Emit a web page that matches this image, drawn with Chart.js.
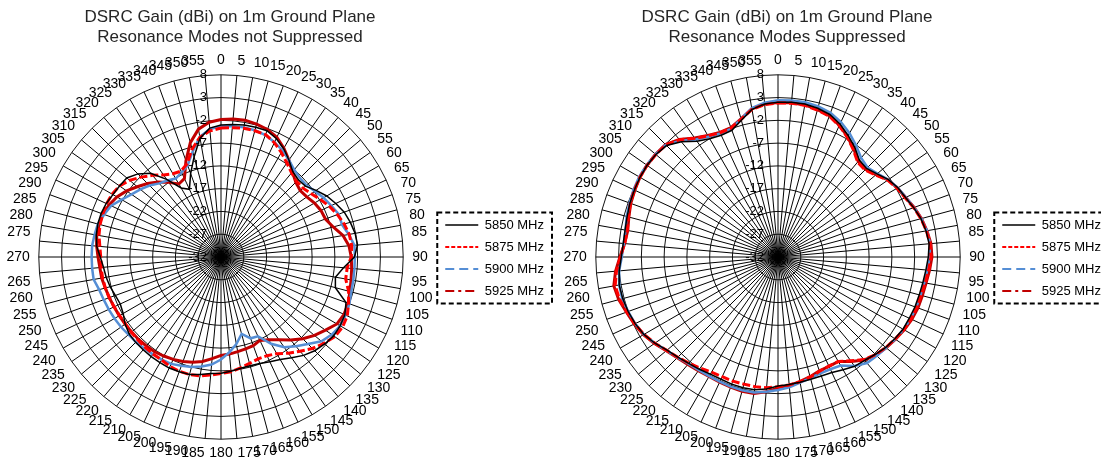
<!DOCTYPE html>
<html>
<head>
<meta charset="utf-8">
<script src="https://cdn.jsdelivr.net/npm/chart.js@4.4.1/dist/chart.umd.min.js"></script>
<style>
  html, body { margin: 0; padding: 0; background: #fff; overflow: hidden; }
  body { width: 1101px; height: 463px; position: relative; }
  canvas { position: absolute; top: 0; }
  #chart-left { left: 0; }
  #chart-right { left: 550px; }
</style>
</head>
<body>
<canvas id="chart-left" width="554" height="463"></canvas>
<canvas id="chart-right" width="561" height="463"></canvas>
<script>
// angulos (graus) e escala de ganho (dBi)
const angles = [
  "0", "5", "10", "15", "20", "25", "30", "35", "40", "45", "50", "55",
  "60", "65", "70", "75", "80", "85", "90", "95", "100", "105", "110", "115",
  "120", "125", "130", "135", "140", "145", "150", "155", "160", "165", "170", "175",
  "180", "185", "190", "195", "200", "205", "210", "215", "220", "225", "230", "235",
  "240", "245", "250", "255", "260", "265", "270", "275", "280", "285", "290", "295",
  "300", "305", "310", "315", "320", "325", "330", "335", "340", "345", "350", "355",
]
const gainTicks = [-32, -27, -22, -17, -12, -7, -2, 3, 8]
const seriesNames = ["5850 MHz", "5875 MHz", "5900 MHz", "5925 MHz"]

// modos de ressonancia nao suprimidos
const notSupp5850 = [
  -3.0, -2.8, -2.6, -2.5, -2.5, -3.3, -4.5, -6.0, -7.5, -8.0, -7.8, -6.5,
  -5.2, -4.2, -3.2, -2.6, -2.1, -1.9, -2.7, -5.0, -6.5, -6.0, -2.8, -2.0,
  -1.8, -1.8, -2.3, -2.9, -3.8, -5.0, -6.0, -6.6, -7.1, -7.3, -7.2, -6.8,
  -6.5, -6.3, -5.8, -5.3, -5.2, -5.1, -5.2, -5.3, -5.4, -5.5, -5.7, -6.3,
  -7.2, -7.6, -7.3, -6.8, -6.4, -6.1, -5.5, -4.6, -4.2, -4.0, -4.0, -4.2,
  -4.6, -4.8, -5.0, -6.2, -8.0, -11.2, -14.5, -15.6, -12.5, -9.2, -5.5, -3.6,
]
const notSupp5875 = [
  -3.7, -3.5, -3.3, -3.3, -3.4, -4.3, -5.5, -6.8, -7.9, -8.5, -8.5, -7.8,
  -6.8, -5.7, -4.8, -4.0, -3.4, -3.2, -3.4, -4.2, -4.2, -3.0, -2.2, -1.4,
  -1.2, -1.5, -2.5, -3.6, -5.0, -6.2, -7.5, -8.1, -8.2, -7.8, -7.3, -6.7,
  -6.4, -6.0, -5.5, -5.3, -5.3, -5.5, -5.9, -6.0, -6.1, -6.2, -6.3, -6.4,
  -6.3, -6.1, -5.9, -5.7, -5.6, -5.6, -5.6, -5.3, -4.8, -4.5, -4.4, -4.3,
  -4.4, -4.8, -5.8, -7.2, -8.6, -10.0, -10.9, -11.2, -10.2, -7.5, -5.3, -4.2,
]
const notSupp5900 = [
  -3.3, -3.2, -3.1, -3.2, -3.5, -4.2, -5.0, -6.0, -7.0, -7.5, -7.5, -6.8,
  -6.0, -5.3, -4.5, -4.5, -3.5, -2.6, -2.6, -2.6, -2.5, -2.4, -2.0, -1.8,
  -1.8, -2.3, -3.2, -5.0, -6.4, -7.8, -10.0, -12.8, -13.0, -14.5, -12.6, -11.0,
  -9.5, -8.3, -7.6, -7.0, -6.6, -6.1, -6.0, -5.9, -5.8, -5.6, -5.5, -5.2,
  -5.0, -4.8, -4.6, -4.3, -3.6, -3.6, -3.6, -3.6, -3.8, -4.0, -4.7, -5.4,
  -6.8, -8.0, -8.9, -9.8, -10.9, -11.5, -12.1, -11.5, -10.6, -8.0, -5.2, -3.8,
]
const notSupp5925 = [
  -1.8, -1.6, -1.5, -1.8, -2.2, -3.0, -4.4, -6.0, -7.6, -8.8, -9.3, -9.0,
  -8.3, -7.8, -7.6, -6.5, -4.8, -3.8, -3.4, -3.2, -3.0, -2.7, -2.3, -2.2,
  -2.6, -4.0, -5.2, -6.6, -8.2, -9.8, -11.0, -11.8, -11.3, -11.1, -10.9, -10.6,
  -10.4, -9.6, -8.7, -8.1, -7.6, -7.2, -6.9, -6.6, -6.5, -6.4, -6.4, -6.3,
  -6.2, -6.1, -5.9, -5.7, -5.4, -5.3, -5.0, -4.6, -4.3, -4.3, -4.4, -4.9,
  -5.6, -6.7, -8.0, -9.2, -10.5, -12.0, -13.5, -13.0, -9.5, -6.0, -3.5, -2.3,
]

// modos de ressonancia suprimidos
const supp5850 = [
  2.0, 2.1, 2.1, 1.8, 1.3, 0.2, -1.2, -2.6, -4.2, -4.5, -3.6, -2.4,
  -1.6, -1.1, -0.3, 0.5, 1.0, 1.3, 1.0, 0.6, 0.3, 0.1, 0.0, -0.2,
  -0.3, -0.7, -1.1, -1.8, -2.4, -2.7, -3.4, -4.0, -4.2, -4.2, -4.1, -3.9,
  -3.7, -2.9, -2.4, -2.3, -2.3, -2.4, -2.3, -1.9, -1.5, -0.9, -0.2, 1.0,
  2.0, 2.6, 3.0, 3.3, 3.4, 3.0, 2.4, 2.1, 2.1, 2.3, 2.6, 2.8,
  3.0, 3.1, 3.0, 2.6, 1.0, -1.0, -2.0, -2.5, -2.4, -0.9, 0.9, 1.7,
]
const supp5875 = [
  1.8, 1.9, 1.8, 1.4, 0.9, -0.2, -1.6, -3.2, -4.8, -5.0, -4.0, -2.6,
  -1.8, -1.2, -0.3, 0.5, 1.1, 1.5, 1.6, 1.2, 0.8, 0.5, 0.4, 0.2,
  -0.1, -0.6, -1.1, -1.7, -2.6, -4.2, -5.5, -5.6, -5.3, -4.7, -4.2, -3.8,
  -3.5, -3.2, -3.1, -3.1, -3.0, -3.0, -2.8, -2.2, -1.6, -0.9, -0.1, 1.0,
  2.0, 2.7, 3.3, 4.0, 4.3, 3.6, 2.6, 1.8, 1.6, 2.0, 2.5, 2.8,
  3.0, 3.1, 3.0, 2.8, 1.6, -0.2, -1.3, -1.9, -1.9, -0.7, 0.9, 1.6,
]
const supp5900 = [
  2.4, 2.5, 2.5, 2.2, 1.7, 0.7, -0.6, -2.1, -3.6, -4.2, -3.5, -2.4,
  -1.6, -1.0, -0.2, 0.6, 1.2, 1.5, 1.3, 0.9, 0.6, 0.4, 0.3, 0.1,
  -0.2, -0.6, -1.0, -1.3, -1.6, -2.8, -4.5, -4.8, -4.8, -4.5, -4.0, -3.3,
  -2.8, -2.3, -1.8, -1.7, -1.7, -1.8, -1.8, -1.7, -1.4, -0.8, -0.1, 1.0,
  2.0, 2.6, 3.0, 3.4, 3.4, 3.0, 2.3, 2.0, 2.0, 2.4, 2.7, 3.0,
  3.2, 3.2, 3.1, 2.8, 1.3, -0.5, -1.5, -2.1, -2.0, -0.6, 1.2, 2.0,
]
const supp5925 = [
  1.9, 2.0, 1.9, 1.5, 1.0, -0.1, -1.5, -3.0, -4.6, -4.8, -3.9, -2.5,
  -1.7, -1.1, -0.2, 0.6, 1.2, 1.7, 1.8, 1.4, 1.0, 0.8, 0.7, 0.4,
  0.0, -0.5, -1.0, -1.6, -2.5, -4.0, -5.5, -5.5, -5.4, -4.8, -4.2, -3.7,
  -3.2, -2.3, -1.6, -1.5, -1.6, -1.7, -1.7, -1.5, -1.2, -0.7, 0.0, 1.1,
  2.1, 2.8, 3.4, 4.2, 4.6, 3.8, 2.7, 1.8, 1.5, 1.9, 2.4, 2.7,
  3.0, 3.1, 3.1, 2.9, 1.7, -0.1, -1.2, -1.8, -1.8, -0.6, 1.0, 1.7,
]

const FONT = "'Liberation Sans', Arial, sans-serif"
// tracejado das amostras na legenda (no grafico os segmentos curtos ficam quase continuos)
const legendDash = [[], [4, 2], [9, 5], [9, 4, 3, 4]]

// titulo, rotulos do eixo radial e moldura tracejada da legenda
const radarExtras = {
  id: "radarExtras",
  afterDatasetsDraw(chart) {
    const scale = chart.scales.r
    const ctx = chart.ctx
    ctx.save()
    ctx.font = "13px " + FONT
    ctx.fillStyle = "#000"
    ctx.textAlign = "right"
    ctx.textBaseline = "middle"
    gainTicks.forEach((v) => {
      const d = scale.getDistanceFromCenterForValue(v)
      ctx.fillText(String(v), scale.xCenter - 14, scale.yCenter - d)
    })
    ctx.restore()
  },
  afterDraw(chart, args, opts) {
    const ctx = chart.ctx
    const scale = chart.scales.r
    ctx.save()
    ctx.font = "17px " + FONT
    ctx.fillStyle = "#262626"
    ctx.textAlign = "center"
    ctx.textBaseline = "middle"
    opts.title.forEach((line, i) => {
      ctx.fillText(line, scale.xCenter + 9, 17 + i * 20)
    })

    const boxes = chart.legend.legendHitBoxes
    if (boxes && boxes.length) {
      const left = Math.min(...boxes.map((b) => b.left)) - 8
      const right = Math.max(...boxes.map((b) => b.left + b.width)) + 8
      const top = Math.min(...boxes.map((b) => b.top)) - 6
      const bottom = Math.max(...boxes.map((b) => b.top + b.height)) + 6
      ctx.strokeStyle = "#000"
      ctx.lineWidth = 2
      ctx.setLineDash([5, 3])
      ctx.strokeRect(left, top, right - left, bottom - top)
    }
    ctx.restore()
  },
}

function buildRadar(canvasId, title, s5850, s5875, s5900, s5925, padLeft) {
  const canvas = document.getElementById(canvasId)
  if (!canvas || typeof Chart === "undefined") return null

  return new Chart(canvas, {
    type: "radar",
    data: {
      labels: angles,
      datasets: [
        { label: seriesNames[0], data: s5850, borderColor: "#000000", borderWidth: 1.5 },
        { label: seriesNames[1], data: s5875, borderColor: "#ff0000", borderWidth: 3, borderDash: [8, 3] },
        { label: seriesNames[2], data: s5900, borderColor: "#558ed5", borderWidth: 2.5 },
        { label: seriesNames[3], data: s5925, borderColor: "#c00000", borderWidth: 3 },
      ],
    },
    options: {
      responsive: false,
      animation: false,
      layout: { padding: { top: 53, bottom: 0, left: padLeft, right: 0 } },
      elements: {
        point: { radius: 0, hoverRadius: 0 },
        line: { tension: 0, fill: false, backgroundColor: "rgba(0,0,0,0)" },
      },
      scales: {
        r: {
          min: -32,
          max: 8,
          ticks: { stepSize: 5, display: false },
          grid: { color: "#111", lineWidth: 1 },
          angleLines: { color: "#000", lineWidth: 1 },
          pointLabels: {
            color: "#000",
            // rotulos do topo/base ficam mais perto do anel externo
            padding: (c) => 6 + 3 * Math.abs(Math.sin((c.index * Math.PI) / 36)),
            font: { family: FONT, size: 14 },
          },
        },
      },
      plugins: {
        title: { display: false },
        tooltip: { enabled: false },
        legend: {
          position: "right",
          labels: {
            usePointStyle: true,
            pointStyle: "line",
            pointStyleWidth: 33,
            padding: 9,
            color: "#000",
            font: { family: FONT, size: 13 },
            generateLabels(chart) {
              const items = Chart.defaults.plugins.legend.labels.generateLabels(chart)
              items.forEach((item, i) => {
                item.lineDash = legendDash[i]
                item.lineWidth = i === 0 ? 1.5 : 2
              })
              return items
            },
          },
        },
        radarExtras: { title },
      },
    },
    plugins: [radarExtras],
  })
}

buildRadar("chart-left",
  ["DSRC Gain (dBi) on 1m Ground Plane", "Resonance Modes not Suppressed"],
  notSupp5850, notSupp5875, notSupp5900, notSupp5925, 3)
buildRadar("chart-right",
  ["DSRC Gain (dBi) on 1m Ground Plane", "Resonance Modes Suppressed"],
  supp5850, supp5875, supp5900, supp5925, 10)
</script>
</body>
</html>
